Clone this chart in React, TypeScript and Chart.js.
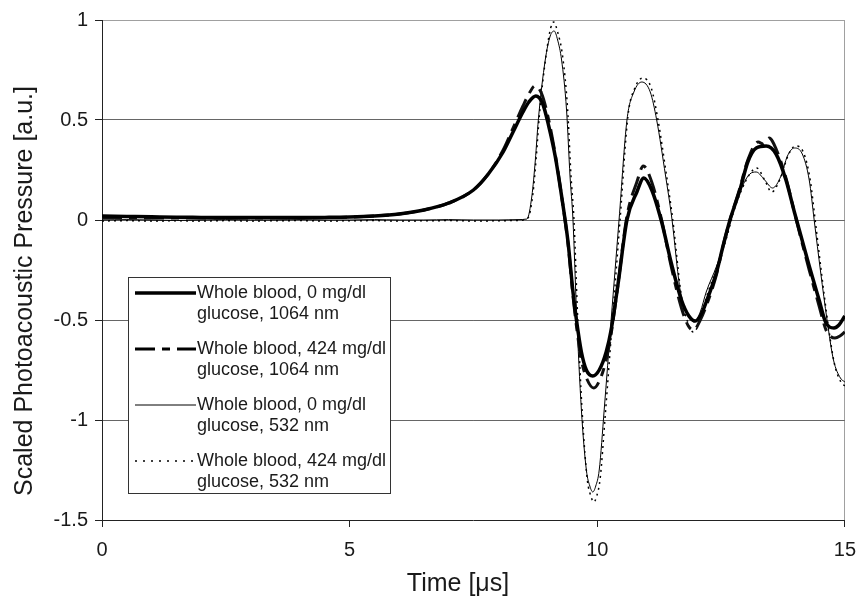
import React, { useEffect, useRef } from "react";
import { Chart, registerables } from "chart.js";

Chart.register(...registerables);

// ---- Data ----
const legendLine1 = [
  "Whole blood, 0 mg/dl",
  "Whole blood, 424 mg/dl",
  "Whole blood, 0 mg/dl",
  "Whole blood, 424 mg/dl",
];
const legendLine2 = [
  "glucose, 1064 nm",
  "glucose, 1064 nm",
  "glucose, 532 nm",
  "glucose, 532 nm",
];

const xTicks = [0, 5, 10, 15];
const yTicks = [1, 0.5, 0, -0.5, -1, -1.5];

// Whole blood, 0 mg/dl, 1064 nm (thick solid)
const tA = [0, 0.5, 1, 1.5, 2, 2.5, 3, 3.5, 4, 4.5, 5, 5.5, 6, 6.5, 7, 7.5, 7.8, 8.1, 8.3, 8.5, 8.62, 8.76, 8.9, 9.02, 9.15, 9.28, 9.41, 9.51, 9.58, 9.68, 9.78, 9.91, 10.04, 10.18, 10.28, 10.42, 10.6, 10.8, 10.94, 11.1, 11.3, 11.5, 11.7, 11.85, 11.98, 12.1, 12.2, 12.41, 12.54, 12.68, 12.88, 13.04, 13.21, 13.41, 13.61, 13.81, 13.98, 14.08, 14.28, 14.48, 14.61, 14.78, 14.88, 15];
const pA = [0.02, 0.018, 0.016, 0.014, 0.013, 0.012, 0.012, 0.012, 0.012, 0.013, 0.015, 0.02, 0.03, 0.05, 0.085, 0.15, 0.23, 0.34, 0.44, 0.54, 0.59, 0.62, 0.58, 0.47, 0.32, 0.12, -0.11, -0.36, -0.5, -0.66, -0.75, -0.78, -0.75, -0.66, -0.55, -0.32, 0.0, 0.14, 0.21, 0.15, -0.01, -0.22, -0.4, -0.48, -0.505, -0.47, -0.41, -0.26, -0.13, 0.0, 0.15, 0.29, 0.36, 0.37, 0.33, 0.2, 0.04, -0.05, -0.23, -0.4, -0.51, -0.54, -0.525, -0.48];

// Whole blood, 424 mg/dl, 1064 nm (thick dashed)
const tB = [0, 0.5, 1, 1.5, 2, 2.5, 3, 3.5, 4, 4.5, 5, 5.5, 6, 6.5, 7, 7.5, 7.8, 8.1, 8.3, 8.5, 8.62, 8.74, 8.88, 9.02, 9.15, 9.28, 9.41, 9.51, 9.58, 9.68, 9.8, 9.93, 10.05, 10.18, 10.28, 10.42, 10.6, 10.8, 10.93, 11.1, 11.3, 11.5, 11.7, 11.84, 11.95, 12.08, 12.2, 12.41, 12.54, 12.68, 12.88, 13.04, 13.25, 13.35, 13.47, 13.62, 13.81, 13.98, 14.08, 14.28, 14.48, 14.62, 14.8, 14.9, 15];
const pB = [0.01, 0.012, 0.01, 0.01, 0.01, 0.01, 0.01, 0.01, 0.011, 0.012, 0.014, 0.02, 0.03, 0.05, 0.085, 0.15, 0.23, 0.35, 0.46, 0.57, 0.63, 0.67, 0.63, 0.5, 0.33, 0.12, -0.12, -0.38, -0.53, -0.7, -0.8, -0.84, -0.8, -0.7, -0.57, -0.32, 0.02, 0.19, 0.27, 0.19, 0.0, -0.24, -0.44, -0.53, -0.55, -0.5, -0.43, -0.27, -0.13, 0.0, 0.16, 0.3, 0.39, 0.38, 0.41, 0.35, 0.21, 0.04, -0.06, -0.25, -0.43, -0.55, -0.59, -0.58, -0.56];

// Whole blood, 0 mg/dl, 532 nm (thin solid)
const tC = [0, 0.5, 1, 1.5, 2, 2.5, 3, 3.5, 4, 4.5, 5, 5.5, 6, 6.5, 7, 7.5, 8, 8.4, 8.58, 8.68, 8.75, 8.81, 8.95, 9.05, 9.13, 9.2, 9.28, 9.38, 9.45, 9.51, 9.58, 9.68, 9.78, 9.85, 9.91, 9.97, 10.04, 10.14, 10.28, 10.36, 10.44, 10.6, 10.74, 10.9, 11.07, 11.2, 11.38, 11.5, 11.68, 11.84, 11.96, 12.08, 12.2, 12.41, 12.61, 12.74, 12.88, 13.08, 13.21, 13.38, 13.54, 13.71, 13.84, 13.98, 14.14, 14.28, 14.38, 14.51, 14.64, 14.77, 14.91, 15];
const pC = [0.0, 0.002, 0.0, -0.002, 0.0, 0.002, 0.0, 0.0, 0.002, 0.0, 0.0, 0.002, 0.0, 0.0, 0.002, 0.0, 0.0, 0.002, 0.005, 0.12, 0.3, 0.5, 0.8, 0.92, 0.945, 0.9, 0.8, 0.55, 0.22, 0.0, -0.45, -0.95, -1.25, -1.33, -1.36, -1.33, -1.25, -0.95, -0.5, -0.25, 0.0, 0.5, 0.64, 0.69, 0.64, 0.5, 0.22, 0.02, -0.36, -0.48, -0.51, -0.46, -0.36, -0.23, -0.08, 0.04, 0.14, 0.23, 0.24, 0.2, 0.16, 0.22, 0.32, 0.36, 0.33, 0.2, 0.0, -0.26, -0.5, -0.7, -0.79, -0.81];

// Whole blood, 424 mg/dl, 532 nm (dotted)
const tD = [0, 0.5, 1, 1.5, 2, 2.5, 3, 3.5, 4, 4.5, 5, 5.5, 6, 6.5, 7, 7.5, 8, 8.4, 8.6, 8.7, 8.77, 8.83, 8.97, 9.06, 9.12, 9.2, 9.3, 9.4, 9.47, 9.53, 9.6, 9.7, 9.8, 9.87, 9.93, 9.99, 10.06, 10.16, 10.3, 10.38, 10.46, 10.62, 10.76, 10.92, 11.09, 11.22, 11.4, 11.52, 11.7, 11.84, 11.94, 12.08, 12.2, 12.41, 12.61, 12.74, 12.88, 13.08, 13.22, 13.38, 13.52, 13.7, 13.85, 14.0, 14.16, 14.3, 14.4, 14.53, 14.66, 14.79, 14.92, 15];
const pD = [-0.005, -0.003, -0.005, -0.004, -0.005, -0.003, -0.005, -0.004, -0.003, -0.005, -0.004, -0.003, -0.005, -0.004, -0.003, -0.005, -0.004, -0.002, 0.01, 0.13, 0.32, 0.52, 0.83, 0.96, 0.99, 0.94, 0.82, 0.56, 0.22, 0.0, -0.46, -0.98, -1.3, -1.38, -1.41, -1.38, -1.29, -0.98, -0.52, -0.26, 0.0, 0.52, 0.66, 0.71, 0.66, 0.51, 0.22, 0.01, -0.38, -0.52, -0.56, -0.5, -0.39, -0.24, -0.09, 0.03, 0.13, 0.23, 0.26, 0.2, 0.14, 0.21, 0.32, 0.37, 0.34, 0.2, 0.0, -0.27, -0.52, -0.72, -0.81, -0.83];

const dashB = [20, 7, 8, 7];
const dotD = [2, 4];
const FONT = "'Liberation Sans', Arial, sans-serif";

function pts(t: number[], p: number[]) {
  return t.map((x, i) => ({ x, y: p[i] }));
}

const overlayPlugin = {
  id: "overlay",
  afterDraw(chart: any) {
    const ctx = chart.ctx as CanvasRenderingContext2D;
    ctx.save();
    // Legend box
    const bx = 128.5, by = 277.5, bw = 262, bh = 216;
    ctx.fillStyle = "#ffffff";
    ctx.fillRect(bx, by, bw, bh);
    ctx.strokeStyle = "#333333";
    ctx.lineWidth = 1;
    ctx.setLineDash([]);
    ctx.strokeRect(bx, by, bw, bh);
    const styles = [
      { w: 3.5, dash: [] as number[] },
      { w: 3, dash: dashB },
      { w: 1, dash: [] as number[] },
      { w: 1.5, dash: [2, 6] },
    ];
    ctx.font = "18px " + FONT;
    ctx.textBaseline = "middle";
    ctx.textAlign = "left";
    for (let i = 0; i < 4; i++) {
      const cy = 293 + i * 56;
      ctx.strokeStyle = "#000000";
      ctx.lineWidth = styles[i].w;
      ctx.setLineDash(styles[i].dash);
      ctx.beginPath();
      ctx.moveTo(135, cy);
      ctx.lineTo(196, cy);
      ctx.stroke();
      ctx.setLineDash([]);
      ctx.fillStyle = "#1a1a1a";
      ctx.fillText(legendLine1[i], 197, cy);
      ctx.fillText(legendLine2[i], 197, cy + 21.5);
    }
    // Axis titles
    ctx.fillStyle = "#1a1a1a";
    ctx.font = "25px " + FONT;
    ctx.textAlign = "center";
    ctx.textBaseline = "middle";
    ctx.fillText("Time [\u03bcs]", 458, 584);
    ctx.translate(25, 291);
    ctx.rotate(-Math.PI / 2);
    ctx.fillText("Scaled Photoacoustic Pressure [a.u.]", 0, 0);
    ctx.restore();
  },
};

export default function App() {
  const ref = useRef<HTMLCanvasElement | null>(null);
  useEffect(() => {
    if (!ref.current) return;
    const tickFont = { family: FONT, size: 20 };
    const chart = new Chart(ref.current, {
      type: "line",
      data: {
        datasets: [
          {
            label: legendLine1[0] + " " + legendLine2[0],
            data: pts(tA, pA),
            borderColor: "#000000",
            borderWidth: 3.5,
            pointRadius: 0,
            cubicInterpolationMode: "monotone",
          },
          {
            label: legendLine1[1] + " " + legendLine2[1],
            data: pts(tB, pB),
            borderColor: "#111111",
            borderWidth: 3,
            borderDash: dashB,
            pointRadius: 0,
            cubicInterpolationMode: "monotone",
          },
          {
            label: legendLine1[2] + " " + legendLine2[2],
            data: pts(tC, pC),
            borderColor: "#000000",
            borderWidth: 1,
            pointRadius: 0,
            cubicInterpolationMode: "monotone",
          },
          {
            label: legendLine1[3] + " " + legendLine2[3],
            data: pts(tD, pD),
            borderColor: "#000000",
            borderWidth: 1.5,
            borderDash: dotD,
            pointRadius: 0,
            cubicInterpolationMode: "monotone",
          },
        ],
      },
      options: {
        animation: false,
        responsive: true,
        maintainAspectRatio: false,
        layout: { padding: { left: 0, right: 15, top: 20, bottom: 0 } },
        plugins: {
          legend: { display: false },
          tooltip: { enabled: false },
          title: { display: false },
        },
        scales: {
          x: {
            type: "linear",
            min: 0,
            max: 15,
            afterFit: (s: any) => {
              s.height = 80;
            },
            afterBuildTicks: (s: any) => {
              s.ticks = xTicks.map((v) => ({ value: v }));
            },
            ticks: {
              font: tickFont,
              color: "#1a1a1a",
              padding: 11,
              maxRotation: 0,
              callback: (v: any) => String(v),
            },
            grid: {
              drawOnChartArea: true,
              color: (c: any) => (c.tick && c.tick.value === 15 ? "#a0a0a0" : "rgba(0,0,0,0)"),
              tickColor: "#222222",
              tickLength: 7,
              lineWidth: 1,
            },
            border: { display: true, color: "#222222", width: 1 },
          },
          y: {
            type: "linear",
            min: -1.5,
            max: 1,
            afterFit: (s: any) => {
              s.width = 102;
            },
            afterBuildTicks: (s: any) => {
              s.ticks = yTicks.map((v) => ({ value: v }));
            },
            ticks: {
              font: tickFont,
              color: "#1a1a1a",
              padding: 7,
              callback: (v: any) => String(v),
            },
            grid: {
              color: (c: any) => {
                const v = c.tick ? c.tick.value : 0;
                if (v === 1) return "#a0a0a0";
                if (v === -1.5) return "rgba(0,0,0,0)";
                return "#666666";
              },
              tickColor: "#222222",
              tickLength: 7,
              lineWidth: 1,
            },
            border: { display: true, color: "#222222", width: 1 },
          },
        },
      },
      plugins: [overlayPlugin],
    });
    return () => chart.destroy();
  }, []);
  return (
    <div style={{ position: "fixed", left: 0, top: 0, width: 867, height: 600, background: "#ffffff" }}>
      <canvas ref={ref} />
    </div>
  );
}
